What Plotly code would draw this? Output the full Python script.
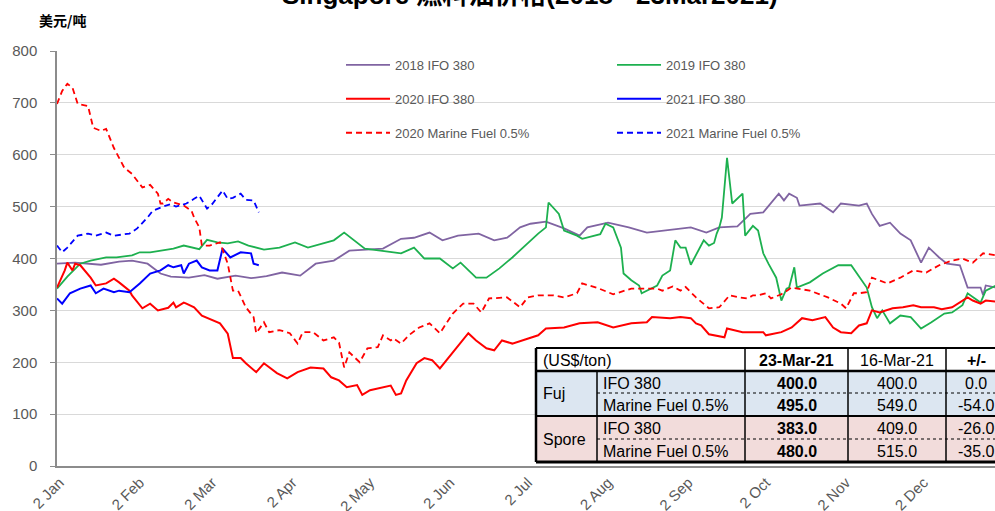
import plotly.graph_objects as go

# ---------------- data (day of year, USD/ton) ----------------
days_2018 = [1,8,18,25,30,36,41,45,52,58,63,70,76,82,88,95,101,108,114,121,127,134,139,145,150,156,164,170,175,180,
             184,190,197,203,206,214,222,229,238,246,252,257,264,269,274,277,280,282,284,287,288,296,301,304,311,314,
             316,319,323,327,331,335,338,342,345,350,353,358,359,360,364]
ifo_2018 = [390,392,388,394,396,390,371,365,363,368,361,367,362,366,373,367,390,396,415,417,419,438,440,450,435,444,
            448,435,440,460,467,471,458,444,460,469,460,450,456,460,450,460,462,486,489,508,525,512,525,517,502,506,
            489,506,502,506,486,463,469,448,435,392,421,402,390,387,344,344,329,348,344]

days_2019 = [1,5,10,14,20,24,30,33,37,41,46,50,56,59,63,67,71,75,81,87,93,98,104,108,112,116,120,126,131,134,139,143,
             149,154,157,163,167,172,177,181,187,190,191,195,197,202,204,211,213,216,219,220,223,226,227,233,235,238,
             240,242,244,246,251,253,255,256,257,258,260,262,266,267,270,272,274,276,278,279,281,283,284,286,287,292,
             297,303,308,310,314,316,318,320,323,327,331,335,339,344,347,351,353,358,360,364]
ifo_2019 = [342,365,390,396,402,402,406,412,412,415,419,425,418,436,431,429,433,425,417,421,431,421,429,435,450,435,
            419,415,412,410,421,400,400,381,392,363,363,381,402,421,448,460,508,486,454,444,438,447,467,460,421,371,
            358,348,333,348,367,377,435,421,421,388,435,425,430,448,460,479,594,506,525,444,463,454,410,390,373,363,
            319,342,344,383,344,354,371,387,387,373,344,306,285,300,275,290,287,265,277,294,296,310,333,315,338,348]

days_2020 = [1,4,5,7,8,10,14,16,20,23,25,29,30,34,37,40,44,46,47,50,51,54,57,61,64,67,69,72,74,78,81,86,90,94,99,104,
             107,110,113,117,119,122,126,130,132,134,136,140,143,146,149,153,157,160,163,167,170,173,177,181,187,190,
             197,203,210,216,223,229,231,238,242,246,248,250,253,259,260,266,274,275,281,285,289,293,298,301,304,308,
             311,314,316,319,324,328,332,335,340,343,347,353,355,358,360,364]
ifo_2020 = [344,377,392,377,390,387,363,348,352,361,354,338,329,304,313,300,305,315,306,315,313,306,290,281,275,255,
            208,208,198,181,198,179,169,181,190,188,171,165,152,156,137,146,150,155,137,140,165,198,208,204,188,213,
            236,256,242,227,223,242,236,242,252,265,267,275,277,267,275,277,287,285,287,285,275,271,254,248,265,258,
            258,252,258,267,285,281,287,267,258,256,271,275,300,296,304,306,310,306,306,302,306,325,319,313,319,317]

days_2020_mf = [1,3,5,7,9,13,15,18,20,23,27,30,34,37,40,41,42,44,46,50,53,54,56,57,60,64,67,69,71,74,77,78,81,83,87,
                91,94,96,100,104,108,110,112,114,118,121,125,127,130,131,134,137,141,145,149,154,158,162,165,168,175,
                180,183,187,193,197,202,204,210,216,223,229,233,235,239,242,244,248,253,257,261,265,268,270,272,275,
                277,281,285,292,299,304,306,309,311,314,316,322,327,332,337,342,347,351,355,359,364]
mf_2020 = [698,723,737,729,698,694,652,646,650,613,575,563,537,542,525,506,506,515,508,502,492,479,460,425,425,431,390,
           338,338,306,287,256,277,258,262,256,236,258,258,242,248,238,190,219,200,227,229,252,242,246,236,252,267,275,
           256,294,313,313,296,323,325,306,325,329,329,325,333,352,343,331,342,342,342,338,346,338,345,325,304,306,329,
           325,323,329,329,333,323,331,344,338,325,313,304,333,333,335,363,352,363,377,373,387,396,400,392,410,406]

days_2021 = [1,3,6,10,14,16,19,23,25,29,33,37,41,44,46,49,50,52,55,57,60,63,65,68,72,76,77,79]
ifo_2021 = [323,313,333,342,348,333,342,335,338,335,352,371,377,387,383,387,371,390,396,383,377,377,419,402,412,410,
            390,387]

days_2021_mf = [1,3,5,9,13,16,20,23,29,32,36,38,42,45,47,51,54,56,59,61,65,67,69,72,74,77,79]
mf_2021 = [425,412,421,444,448,444,450,444,448,458,479,492,500,505,500,506,515,521,496,505,531,515,517,525,513,512,489]

series_names = ["2018 IFO 380", "2019 IFO 380", "2020 IFO 380", "2021 IFO 380",
                "2020 Marine Fuel 0.5%", "2021 Marine Fuel 0.5%"]

tick_days = [2, 33, 61, 92, 122, 153, 183, 214, 245, 275, 306, 336]
tick_text = ["2 Jan", "2 Feb", "2 Mar", "2 Apr", "2 May", "2 Jun",
             "2 Jul", "2 Aug", "2 Sep", "2 Oct", "2 Nov", "2 Dec"]

# table
table_header = ["(US$/ton)", "23-Mar-21", "16-Mar-21", "+/-"]
table_regions = ["Fuj", "Spore"]
table_products = ["IFO 380", "Marine Fuel 0.5%", "IFO 380", "Marine Fuel 0.5%"]
price_latest = [400.0, 495.0, 383.0, 480.0]
price_prev = [400.0, 549.0, 409.0, 515.0]
price_change = [a - b for a, b in zip(price_latest, price_prev)]

# ---------------- layout geometry (pixels) ----------------
FW, FH = 995, 511
L, R, T, B = 57, 995, 51, 466
W, H = R - L, B - T


def px(x):
    return (x - L) / W


def py(y):
    return (B - y) / H


FONT = "Liberation Sans, Arial, sans-serif"
GRAY = "#595959"

fig = go.Figure()

styles = [
    dict(color="#8064A2", width=1.8),
    dict(color="#1DB04F", width=1.8),
    dict(color="#FF0000", width=2),
    dict(color="#0000FF", width=2),
    dict(color="#FF0000", width=1.8, dash="6px,4px"),
    dict(color="#0000FF", width=1.8, dash="6px,4px"),
]
xs = [days_2018, days_2019, days_2020, days_2021, days_2020_mf, days_2021_mf]
ys = [ifo_2018, ifo_2019, ifo_2020, ifo_2021, mf_2020, mf_2021]
legend_ref = ["legend", "legend2", "legend", "legend2", "legend", "legend2"]

for i in range(6):
    fig.add_trace(go.Scatter(
        x=xs[i], y=ys[i], mode="lines", name=series_names[i],
        line=styles[i], legend=legend_ref[i], legendgroup=f"g{i}",
        hoverinfo="skip",
    ))

legend_common = dict(
    xanchor="left", yanchor="top", bgcolor="rgba(0,0,0,0)",
    font=dict(family=FONT, size=13, color=GRAY), tracegroupgap=14,
    itemwidth=44, traceorder="grouped",
)

fig.update_layout(
    width=FW, height=FH,
    margin=dict(l=L, r=FW - R, t=T, b=FH - B, pad=0, autoexpand=False),
    paper_bgcolor="white", plot_bgcolor="white",
    font=dict(family=FONT, color=GRAY),
    showlegend=True,
    legend=dict(x=px(341), y=py(50), **legend_common),
    legend2=dict(x=px(612), y=py(50), **legend_common),
    xaxis=dict(
        range=[1, 1 + W / 2.587], tickmode="array", tickvals=tick_days, ticktext=tick_text,
        tickangle=-45, tickfont=dict(family=FONT, size=15, color=GRAY), ticklabelstandoff=0,
        showgrid=False, zeroline=False, showline=True, linecolor="#8c8c8c", linewidth=2,
        ticks="", automargin=False,
    ),
    yaxis=dict(
        range=[0, 800], dtick=100, tick0=0, showgrid=True, gridcolor="#d9d9d9", gridwidth=1,
        zeroline=False, showline=True, linecolor="#8c8c8c", linewidth=1.5,
        ticks="outside", ticklen=5, tickcolor="#8c8c8c", automargin=False,
        tickfont=dict(family=FONT, size=15, color=GRAY), ticklabelstandoff=10,
    ),
)

# title and unit (title is partly cut off at top in the reference)
fig.add_annotation(
    text="<b>Singapore 燃料油价格(2018 - 23Mar2021)</b>", xref="paper", yref="paper",
    x=px(530), y=py(-5), xanchor="center", yanchor="middle", showarrow=False,
    font=dict(family="Liberation Sans, Noto Sans CJK SC, sans-serif", size=26, color="#000000"),
)
fig.add_annotation(
    text="<b>美元/吨</b>", xref="paper", yref="paper",
    x=px(37), y=py(20), xanchor="left", yanchor="middle", showarrow=False,
    font=dict(family="Noto Sans CJK SC, sans-serif", size=14, color="#000000"),
)

# ---------------- table ----------------
col_x = [536, 597, 745, 848, 946, 1010]
row_y = [348, 371, 393, 416, 439, 462]
fill_fuj = "#DCE6F1"
fill_spore = "#F2DCDB"

shapes = []


def rect(x0, y0, x1, y1, fill):
    shapes.append(dict(type="rect", xref="paper", yref="paper", x0=px(x0), x1=px(x1),
                       y0=py(y1), y1=py(y0), fillcolor=fill, line=dict(width=0), layer="above"))


def hline(x0, x1, y, w, dash="solid"):
    shapes.append(dict(type="line", xref="paper", yref="paper", x0=px(x0), x1=px(x1),
                       y0=py(y), y1=py(y), line=dict(color="black", width=w, dash=dash), layer="above"))


def vline(x, y0, y1, w):
    shapes.append(dict(type="line", xref="paper", yref="paper", x0=px(x), x1=px(x),
                       y0=py(y0), y1=py(y1), line=dict(color="black", width=w), layer="above"))


rect(col_x[0], row_y[0], col_x[-1], row_y[1], "white")
rect(col_x[0], row_y[1], col_x[-1], row_y[3], fill_fuj)
rect(col_x[0], row_y[3], col_x[-1], row_y[5], fill_spore)

# borders
hline(col_x[0], col_x[-1], row_y[0], 2)
hline(col_x[0], col_x[-1], row_y[1], 2.5)
hline(col_x[1], col_x[-1], row_y[2], 1, "dot")
hline(col_x[0], col_x[-1], row_y[3], 2)
hline(col_x[1], col_x[-1], row_y[4], 1, "dot")
hline(col_x[0], col_x[-1], row_y[5], 3)
vline(col_x[0], row_y[0], row_y[5], 2.5)
vline(col_x[1], row_y[1], row_y[5], 1.5)
for cx in col_x[2:5]:
    vline(cx, row_y[0], row_y[5], 1.5)

fig.update_layout(shapes=shapes)

TF = dict(family=FONT, size=16, color="#000000")


def cell_text(text, x, y, anchor="center", bold=False):
    fig.add_annotation(text=f"<b>{text}</b>" if bold else text, xref="paper", yref="paper",
                       x=px(x), y=py(y), xanchor=anchor, yanchor="middle", showarrow=False, font=TF)


cell_text(table_header[0], col_x[0] + 5, (row_y[0] + row_y[1]) / 2 + 1, "left")
cell_text(table_header[1], (col_x[2] + col_x[3]) / 2, (row_y[0] + row_y[1]) / 2 + 1, bold=True)
cell_text(table_header[2], (col_x[3] + col_x[4]) / 2, (row_y[0] + row_y[1]) / 2 + 1)
cell_text(table_header[3], 976, (row_y[0] + row_y[1]) / 2 + 1, bold=True)

for g, region in enumerate(table_regions):
    cell_text(region, col_x[0] + 5, row_y[1 + 2 * g + 1], "left")

for r in range(4):
    yc = (row_y[r + 1] + row_y[r + 2]) / 2 + 1
    cell_text(table_products[r], col_x[1] + 4, yc, "left")
    cell_text(f"{price_latest[r]:.1f}", (col_x[2] + col_x[3]) / 2, yc, bold=True)
    cell_text(f"{price_prev[r]:.1f}", (col_x[3] + col_x[4]) / 2, yc)
    cell_text(f"{price_change[r]:.1f}", 976, yc)

fig.write_html("out.html", config={"displayModeBar": False},
               post_script="document.body.style.margin='0px';")
